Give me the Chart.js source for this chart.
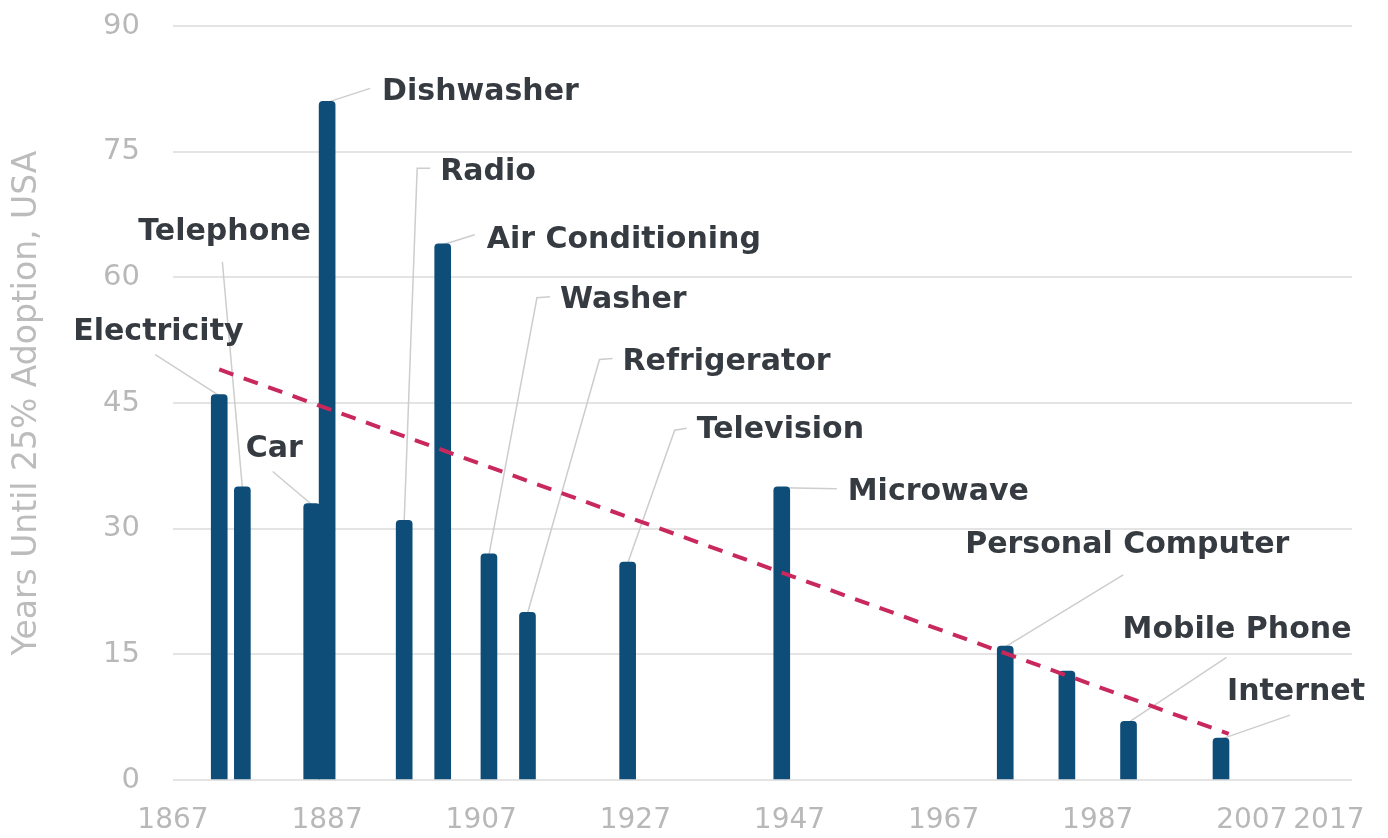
<!DOCTYPE html>
<html lang="en">
<head>
  <meta charset="UTF-8" />
  <title>Years Until 25% Adoption, USA</title>
  <script src="https://cdn.jsdelivr.net/npm/chart.js"></script>
  <style>
    body { margin: 0; background: #fff; }
    #wrap { width: 1388px; height: 838px; }
  </style>
</head>
<body>
  <div id="wrap"><canvas id="adoptChart" width="1388" height="838"></canvas></div>

  <script>
    // data
    const inventions = ['Electricity', 'Telephone', 'Car', 'Dishwasher', 'Radio', 'Air Conditioning',
      'Washer', 'Refrigerator', 'Television', 'Microwave', 'Personal Computer', '', 'Mobile Phone', 'Internet'];
    const years = [1873, 1876, 1885, 1887, 1897, 1902, 1908, 1913, 1926, 1946, 1975, 1983, 1991, 2003];
    const yearsToAdopt = [46, 35, 33, 81, 31, 64, 27, 20, 26, 35, 16, 13, 7, 5];
    const trendYears = [1873, 2004];
    const trendValues = [49, 5.5];
    const xTicks = [1867, 1887, 1907, 1927, 1947, 1967, 1987, 2007, 2017];
    const yTicks = [0, 15, 30, 45, 60, 75, 90];

    // label placement, pixel offsets from the top of each bar: text [dx, dy], then leader points
    const labelLayout = [
      { text: [-146, -62], leader: [[-64, -40]] },
      { text: [-104, -255], leader: [[-20, -225]] },
      { text: [-66, -54], leader: [[-39, -32]] },
      { text: [55, -9], leader: [[43, -13]] },
      { text: [36, -348], leader: [[26, -352], [13, -352]] },
      { text: [44, -4], leader: [[32, -9]] },
      { text: [71, -254], leader: [[61, -257], [48, -256]] },
      { text: [95, -250], leader: [[85, -254], [72, -253]] },
      { text: [69, -132], leader: [[59, -134], [47, -132]] },
      { text: [66, 5], leader: [[55, 2]] },
      { text: [-40, -101], leader: [[118, -71]] },
      null,
      { text: [-6, -91], leader: [[98, -64]] },
      { text: [6, -46], leader: [[69, -23]] }
    ];

    function barTop(chart, i) {
      const x = chart.scales.x.getPixelForValue(years[i]);
      const y = chart.scales.y.getPixelForValue(yearsToAdopt[i]);
      return [x, y];
    }

    const calloutPlugin = {
      id: 'callouts',
      beforeDatasetsDraw(chart) {
        const ctx = chart.ctx;
        ctx.save();
        ctx.strokeStyle = '#cdcdcd';
        ctx.lineWidth = 1.5;
        labelLayout.forEach((lay, i) => {
          if (!lay) return;
          const [bx, by] = barTop(chart, i);
          ctx.beginPath();
          lay.leader.forEach((p, k) => {
            if (k === 0) ctx.moveTo(bx + p[0], by + p[1]);
            else ctx.lineTo(bx + p[0], by + p[1]);
          });
          ctx.lineTo(bx, by + 1);
          ctx.stroke();
        });
        ctx.restore();
      },
      afterDatasetsDraw(chart) {
        const ctx = chart.ctx;
        ctx.save();
        ctx.font = 'bold 30px "DejaVu Sans"';
        ctx.fillStyle = '#353b41';
        ctx.textAlign = 'left';
        ctx.textBaseline = 'middle';
        labelLayout.forEach((lay, i) => {
          if (!lay) return;
          const [bx, by] = barTop(chart, i);
          ctx.fillText(inventions[i], bx + lay.text[0], by + lay.text[1]);
        });
        ctx.restore();
      }
    };

    const ctx = document.getElementById('adoptChart').getContext('2d');
    new Chart(ctx, {
      type: 'bar',
      data: {
        datasets: [
          {
            type: 'line',
            label: 'Trend',
            data: trendYears.map((yr, i) => ({ x: yr, y: trendValues[i] })),
            borderColor: '#c8285c',
            borderWidth: 4,
            borderDash: [15, 11],
            pointRadius: 0,
            fill: false,
            order: 0
          },
          {
            label: 'Years until 25% adoption',
            data: years.map((yr, i) => ({ x: yr, y: yearsToAdopt[i] })),
            backgroundColor: '#0d4d77',
            barThickness: 16,
            borderRadius: { topLeft: 4, topRight: 4 },
            borderSkipped: 'bottom',
            order: 1
          }
        ]
      },
      options: {
        responsive: false,
        animation: false,
        layout: { autoPadding: false, padding: { left: 0, right: 36, top: 26, bottom: 0 } },
        plugins: {
          legend: { display: false },
          tooltip: { enabled: false }
        },
        scales: {
          x: {
            type: 'linear',
            min: 1867,
            max: 2020,
            offset: false,
            grid: { display: false },
            border: { display: false },
            afterBuildTicks: (scale) => { scale.ticks = xTicks.map(v => ({ value: v })); },
            afterFit: (scale) => { scale.height = 58; scale.paddingLeft = 0; scale.paddingRight = 0; },
            ticks: {
              autoSkip: false,
              maxRotation: 0,
              padding: 16,
              color: '#b8b8b8',
              font: { family: 'DejaVu Sans', size: 28 },
              callback: (v) => String(v)
            }
          },
          y: {
            min: 0,
            max: 90,
            afterBuildTicks: (scale) => { scale.ticks = yTicks.map(v => ({ value: v })); },
            afterFit: (scale) => { scale.width = 173; scale.paddingTop = 0; scale.paddingBottom = 0; },
            grid: { color: '#e4e4e4', lineWidth: 2, drawTicks: false },
            border: { display: false },
            ticks: {
              padding: 33,
              color: '#b8b8b8',
              font: { family: 'DejaVu Sans', size: 29 }
            },
            title: {
              display: true,
              text: 'Years Until 25% Adoption, USA',
              color: '#bcbcbc',
              font: { family: 'DejaVu Sans', size: 33 },
              padding: { top: 8, bottom: 0 }
            }
          }
        }
      },
      plugins: [calloutPlugin]
    });
  </script>
</body>
</html>
